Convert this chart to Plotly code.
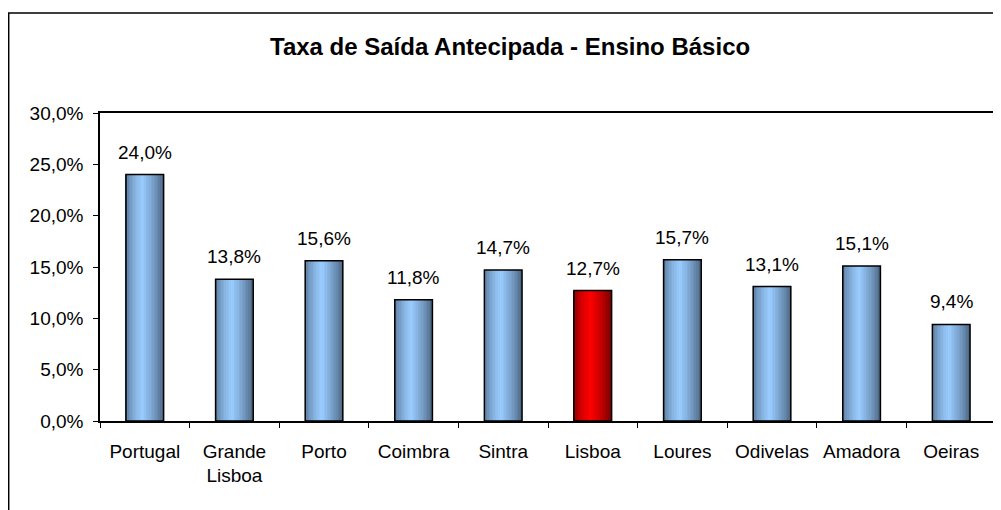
import plotly.graph_objects as go

categories = ["Portugal", "Grande<br>Lisboa", "Porto", "Coimbra", "Sintra",
              "Lisboa", "Loures", "Odivelas", "Amadora", "Oeiras"]
values = [24.0, 13.8, 15.6, 11.8, 14.7, 12.7, 15.7, 13.1, 15.1, 9.4]
highlight = "Lisboa"
title_text = "Taxa de Saída Antecipada - Ensino Básico"

FONT = "Liberation Sans, Arial, sans-serif"
BAR_W = 0.42
N = 24

blue_dark = (72, 96, 124)
blue_light = (153, 204, 255)
red_dark = (110, 0, 0)
red_light = (255, 0, 0)

# figure geometry (page has an 8px body margin)
W, H = 993, 502
L, R, T, B = 92, 3, 105, 89
PW = W - L - R
PH = H - T - B


def profile(t):
    peak = 0.45
    if t <= peak:
        s = t / peak
        return s ** 0.5
    s = (1 - t) / (1 - peak)
    return s ** 0.75


def mix(a, b, s):
    return "rgb(%d,%d,%d)" % tuple(round(a[k] + (b[k] - a[k]) * s) for k in range(3))


fig = go.Figure()
strip = BAR_W / N
for i in range(N):
    t = (i + 0.5) / N
    s = profile(t)
    cols = [mix(red_dark, red_light, s) if c.replace("<br>", " ") == highlight
            else mix(blue_dark, blue_light, s) for c in categories]
    fig.add_trace(go.Bar(
        x=categories, y=values,
        width=[strip * 1.15] * len(values),
        offset=[-BAR_W / 2 + i * strip] * len(values),
        marker=dict(color=cols, line=dict(width=0)),
        hoverinfo="skip", showlegend=False,
    ))

fig.add_trace(go.Bar(
    x=categories, y=values,
    width=[BAR_W] * len(values),
    marker=dict(color="rgba(0,0,0,0)", line=dict(color="black", width=1.5)),
    showlegend=False,
))

annotations = []
for c, v in zip(categories, values):
    annotations.append(dict(
        x=c, y=v, xref="x", yref="y",
        text=("%.1f%%" % v).replace(".", ","),
        showarrow=False, yanchor="bottom", yshift=10,
        font=dict(family=FONT, size=19, color="black"),
    ))

annotations.append(dict(
    x=(503 - L) / PW, y=(H - B - 38) / PH, xref="paper", yref="paper",
    text="<b>" + title_text + "</b>", showarrow=False,
    xanchor="center", yanchor="middle",
    font=dict(family=FONT, size=24, color="black"),
))

fig.update_layout(
    width=W, height=H,
    margin=dict(l=L, r=R, t=T, b=B),
    paper_bgcolor="white", plot_bgcolor="white",
    barmode="overlay",
    separators=",.",
    font=dict(family=FONT, size=19, color="black"),
    annotations=annotations,
    shapes=[dict(
        type="rect", xref="paper", yref="paper",
        x0=(0.5 - L) / PW, x1=(1000 - L) / PW,
        y0=(H - B - 520) / PH, y1=(H - B - 5) / PH,
        line=dict(color="black", width=1.5), fillcolor="rgba(0,0,0,0)",
        layer="below",
    )],
)

fig.update_xaxes(
    type="category",
    showline=True, linecolor="black", linewidth=1.5, mirror=True,
    ticks="outside", ticklen=5, tickcolor="black", tickwidth=1,
    tickson="boundaries", showgrid=False,
    ticklabelstandoff=12,
    tickfont=dict(family=FONT, size=19, color="black"),
)
fig.update_yaxes(
    range=[0, 30], dtick=5, tick0=0,
    tickformat=".1f", ticksuffix="%",
    showline=True, linecolor="black", linewidth=1.5, mirror=True,
    ticks="outside", ticklen=5, tickcolor="black", tickwidth=1,
    showgrid=False, zeroline=False,
    ticklabelstandoff=6,
    tickfont=dict(family=FONT, size=19, color="black"),
)

fig.write_html("out.html")
